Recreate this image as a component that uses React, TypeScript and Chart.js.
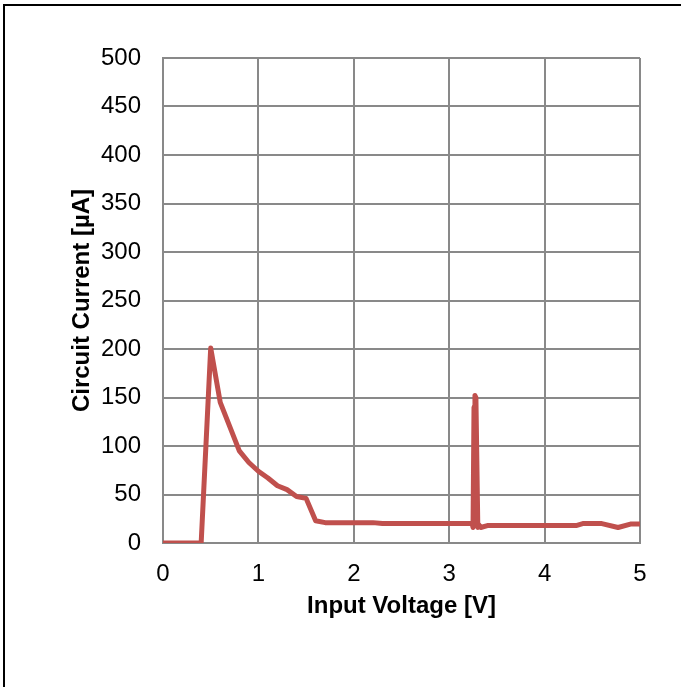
import React, { useEffect, useRef } from "react";
import { Chart, registerables } from "chart.js";

Chart.register(...registerables);

const voltage = [0, 0.4, 0.5, 0.6, 0.7, 0.8, 0.9, 1.0, 1.1, 1.2, 1.3, 1.4, 1.5, 1.6, 1.7, 1.8, 2.0, 2.2, 2.3, 2.5, 3.0, 3.24, 3.25, 3.26, 3.27, 3.28, 3.3, 3.31, 3.33, 3.4, 3.6, 4.0, 4.33, 4.4, 4.6, 4.77, 4.9, 5.0];
const current = [0, 0, 201, 145, 120, 95, 83, 74, 67, 59, 55, 48, 46, 23, 21, 21, 21, 21, 20, 20, 20, 20, 16, 140, 152, 150, 16, 19, 16, 18, 18, 18, 18, 20, 20, 16, 19.5, 19.5];
const xTicks = [0, 1, 2, 3, 4, 5];
const yTickStep = 50;
const yMax = 500;
const xTitle = "Input Voltage [V]";
const yTitle = "Circuit Current [µA]";

const FONT = "'Liberation Sans', Arial, sans-serif";

export default function App() {
  const ref = useRef<HTMLCanvasElement | null>(null);
  useEffect(() => {
    document.body.style.margin = "0";
    const canvas = ref.current;
    if (!canvas) return;
    const chart = new Chart(canvas, {
      type: "scatter",
      data: {
        datasets: [
          {
            data: voltage.map((v, i) => ({ x: v, y: current[i] })),
            showLine: true,
            borderColor: "#C0504D",
            backgroundColor: "#C0504D",
            borderWidth: 5,
            pointRadius: 0,
            tension: 0,
            borderJoinStyle: "round",
            borderCapStyle: "round",
          },
        ],
      },
      options: {
        animation: false,
        responsive: false,
        maintainAspectRatio: false,
        layout: { padding: { top: 58, right: 41, bottom: 0, left: 68 } },
        plugins: { legend: { display: false }, tooltip: { enabled: false } },
        scales: {
          x: {
            type: "linear",
            min: xTicks[0],
            max: xTicks[xTicks.length - 1],
            afterBuildTicks: (s: any) => {
              s.ticks = xTicks.map((v) => ({ value: v }));
            },
            afterFit: (s: any) => {
              s.height = 144;
            },
            grid: { color: "#898989", lineWidth: 2, drawTicks: false },
            border: { color: "#898989", width: 2 },
            ticks: { color: "#000", padding: 17, font: { family: FONT, size: 24 } },
            title: {
              display: true,
              text: xTitle,
              color: "#000",
              font: { family: FONT, size: 24, weight: "bold" },
              padding: { top: 0, bottom: 66 },
            },
          },
          y: {
            type: "linear",
            min: 0,
            max: yMax,
            ticks: { stepSize: yTickStep, color: "#000", padding: 22, font: { family: FONT, size: 24 } },
            afterFit: (s: any) => {
              s.width = 95;
            },
            grid: { color: "#898989", lineWidth: 2, drawTicks: false },
            border: { color: "#898989", width: 2 },
            title: {
              display: true,
              text: yTitle,
              color: "#000",
              font: { family: FONT, size: 24, weight: "bold" },
              padding: { top: 0, bottom: 0 },
            },
          },
        },
      },
    });
    return () => chart.destroy();
  }, []);
  return (
    <div style={{ position: "relative", width: 681, height: 687, overflow: "hidden", background: "#fff" }}>
      <div
        style={{
          position: "absolute",
          left: 3,
          top: 4,
          width: 720,
          height: 720,
          border: "2px solid #000",
          boxSizing: "border-box",
        }}
      />
      <canvas ref={ref} width={681} height={687} style={{ position: "absolute", left: 0, top: 0 }} />
    </div>
  );
}
